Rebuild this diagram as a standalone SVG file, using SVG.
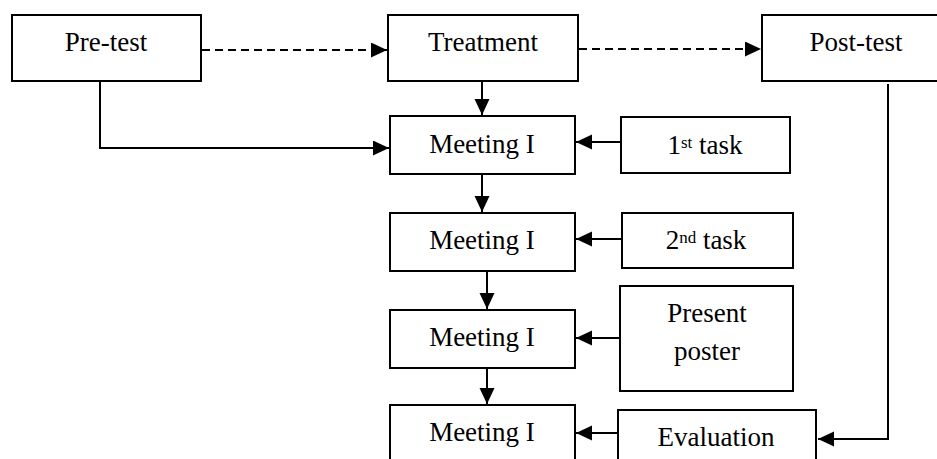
<svg xmlns="http://www.w3.org/2000/svg" width="937" height="459" viewBox="0 0 937 459">
<style>
.box{fill:#fff;stroke:#000;stroke-width:2}
.lbl{font-family:"Liberation Serif","Times New Roman",serif;font-size:27px;fill:#000;text-anchor:middle}
.sup{font-size:17px}
.ln{fill:none;stroke:#000;stroke-width:2}
.dash{stroke-dasharray:8 5}
</style>
<defs>
<marker id="ah" markerUnits="userSpaceOnUse" markerWidth="17" markerHeight="16" refX="16" refY="7.5" orient="auto">
<path d="M0,0 L16,7.5 L0,15 z" fill="#000"/>
</marker>
</defs>
<rect width="937" height="459" fill="#fff"/>
<g id="connectors">
<path class="ln dash" d="M202,50 H387" marker-end="url(#ah)"/>
<path class="ln dash" d="M579,49 H761" marker-end="url(#ah)"/>
<path class="ln" d="M482,82 V115" marker-end="url(#ah)"/>
<path class="ln" d="M100,82 V148 H389" marker-end="url(#ah)"/>
<path class="ln" d="M620,142 H576" marker-end="url(#ah)"/>
<path class="ln" d="M482,175 V212" marker-end="url(#ah)"/>
<path class="ln" d="M621,239 H576" marker-end="url(#ah)"/>
<path class="ln" d="M487,272 V309" marker-end="url(#ah)"/>
<path class="ln" d="M619,338 H576" marker-end="url(#ah)"/>
<path class="ln" d="M487,369 V404" marker-end="url(#ah)"/>
<path class="ln" d="M617,433 H576" marker-end="url(#ah)"/>
<path class="ln" d="M888,84 V439 H818" marker-end="url(#ah)"/>
</g>
<g id="pretest"><rect class="box" x="12" y="15" width="189" height="66"/><text class="lbl" x="106" y="51">Pre-test</text></g>
<g id="treatment"><rect class="box" x="388" y="15" width="190" height="66"/><text class="lbl" x="483" y="51">Treatment</text></g>
<g id="posttest"><rect class="box" x="762" y="15" width="190" height="66"/><text class="lbl" x="856" y="51">Post-test</text></g>
<g id="meeting1"><rect class="box" x="390" y="116" width="185" height="58"/><text class="lbl" x="482" y="153">Meeting I</text></g>
<g id="meeting2"><rect class="box" x="390" y="213" width="185" height="58"/><text class="lbl" x="482" y="249">Meeting I</text></g>
<g id="meeting3"><rect class="box" x="390" y="310" width="185" height="58"/><text class="lbl" x="482" y="346">Meeting I</text></g>
<g id="meeting4"><rect class="box" x="390" y="405" width="185" height="70"/><text class="lbl" x="482" y="441">Meeting I</text></g>
<g id="task1"><rect class="box" x="621" y="117" width="169" height="56"/><text class="lbl" x="705" y="154">1<tspan class="sup" dy="-6">st</tspan><tspan dy="6"> task</tspan></text></g>
<g id="task2"><rect class="box" x="622" y="213" width="171" height="55"/><text class="lbl" x="706" y="249">2<tspan class="sup" dy="-6">nd</tspan><tspan dy="6"> task</tspan></text></g>
<g id="poster"><rect class="box" x="620" y="286" width="173" height="105"/><text class="lbl" x="707" y="322">Present</text><text class="lbl" x="707" y="360">poster</text></g>
<g id="evaluation"><rect class="box" x="618" y="410" width="198" height="65"/><text class="lbl" x="716" y="446">Evaluation</text></g>
</svg>
